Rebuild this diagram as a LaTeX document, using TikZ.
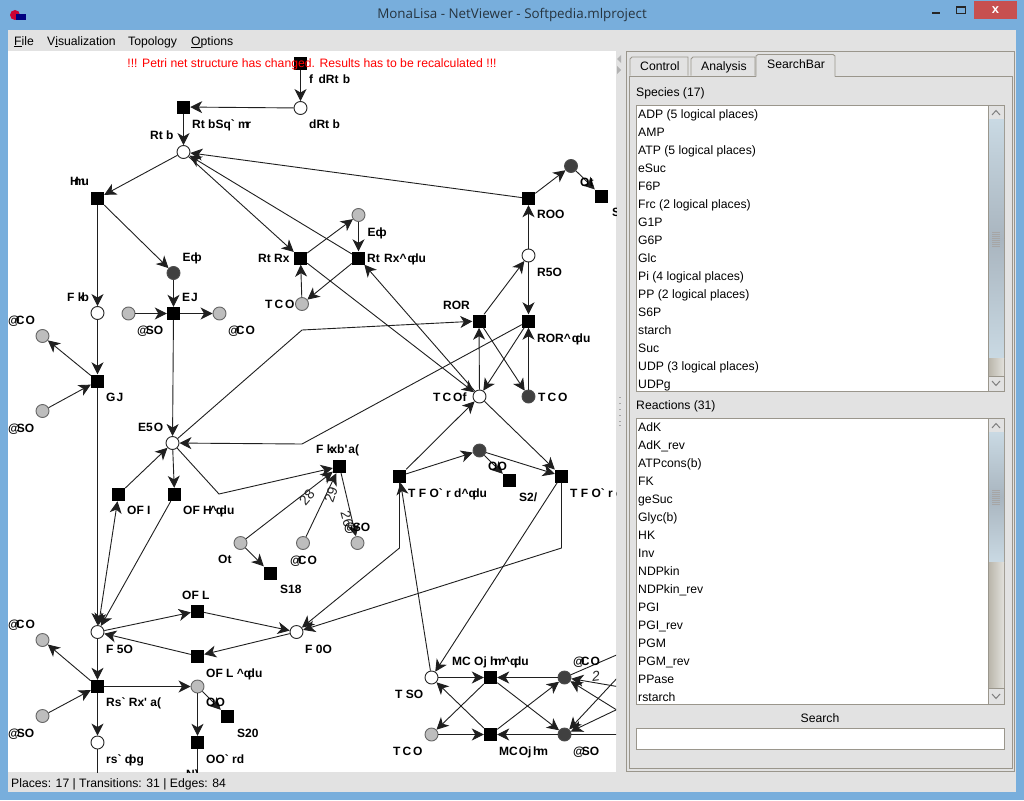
\documentclass[tikz,border=0pt]{standalone}
\usepackage{fontspec}
\setmainfont{Liberation Sans}
\newfontfamily\titlefont{Open Sans}
\usetikzlibrary{arrows.meta,calc}
\definecolor{winblue}{HTML}{78AEDC}
\definecolor{wingrey}{HTML}{E2E2E2}
\definecolor{frameline}{HTML}{9A968C}
\definecolor{placegrey}{HTML}{BDBDBD}
\definecolor{placedark}{HTML}{404040}
\definecolor{closered}{HTML}{C75050}
\definecolor{thumbA}{HTML}{C9D9E3}
\definecolor{thumbB}{HTML}{A9B5BF}
\definecolor{trackA}{HTML}{B9B5AA}
\definecolor{trackB}{HTML}{E2E1DC}
\definecolor{titleink}{HTML}{26343F}
\newcommand{\hc}{\textasciicircum}
\newcommand{\gv}{\textasciigrave}
\newcommand{\qs}{\textquotesingle}
\newcommand{\qdu}{q\kern-3.5pt du}
\newcommand{\hm}{h\kern-3pt m}
\newcommand{\Eqb}{E\kern-.2pt q\kern-3.5pt b}
\newcommand{\TCO}{T\kern2pt C\kern2pt O}
\newcommand{\ACO}{@\kern-4pt C\kern1pt O}
\newcommand{\ASO}{@\kern-3pt SO}
\tikzset{
  x=1pt,y=-1pt,
  every node/.style={font=\fontsize{12.2}{14}\selectfont},
  place/.style={circle,draw=black!85,line width=0.9pt,fill=white,minimum size=13pt,inner sep=0pt},
  placeg/.style={place,fill=placegrey,draw=black!60},
  placed/.style={place,fill=placedark,draw=black!70},
  trans/.style={rectangle,fill=black,minimum size=13pt,inner sep=0pt},
  tip/.tip={Stealth[length=12pt,width=12pt,inset=3.5pt]},
  edge/.style={draw=black!88,line width=0.9pt,-{tip}},
  edgeb/.style={draw=black!88,line width=0.9pt,{tip}-{tip}},
  plain/.style={draw=black!88,line width=0.9pt},
  lab/.style={anchor=base west,yshift=-4.3pt,inner sep=0pt,font=\bfseries\fontsize{12}{14}\selectfont,text=black},
  wt/.style={inner sep=0pt,font=\fontsize{14}{14}\selectfont,text=black!85},
  item/.style={anchor=base west,yshift=-4.3pt,inner sep=0pt,text=black},
  panel/.style={draw=frameline,line width=0.9pt},
  listbox/.style={draw=frameline,line width=0.9pt,fill=white},
  scrollbtn/.style={draw=frameline,line width=0.6pt,fill=wingrey},
}
\begin{document}
\begin{tikzpicture}
\useasboundingbox (0,0) rectangle (1024,800);
% window
\fill[winblue] (0,0) rectangle (1024,800);
\fill[wingrey] (8,30) rectangle (1016,792);
\fill[closered] (974,1) rectangle (1017,19);
\node[inner sep=0pt,text=white,font=\bfseries\fontsize{13}{13}\selectfont] (closex) at (995.5,10) {x};
\fill[black!85] (932,12) rectangle (940,14);
\draw[black!85,line width=1pt] (956.5,6.5) rectangle (965.5,13.5);
\fill[black!85] (956,6) rectangle (966,8);
\fill[purple!80!red] (15,15) circle (5);
\fill[blue!50!black] (16,14) rectangle (26,20);
\node[inner sep=0pt,font=\titlefont\fontsize{13.4}{14}\selectfont,text=titleink] (wintitle) at (512,15) {MonaLisa - NetViewer - Softpedia.mlproject};
% menu
\node[item] (mFile) at (14,41) {\underline{F}ile};
\node[item] (mVis) at (47,41) {V\underline{i}sualization};
\node[item] (mTop) at (128,41) {Topology};
\node[item] (mOpt) at (191,41) {\underline{O}ptions};
% canvas
\fill[white] (8,51) rectangle (616,772);
\begin{scope}
\clip (8,51) rectangle (616,772);
% places and transitions
\node[trans] (tFd) at (300.5,63.5) {};
\node[place] (pD) at (300.5,108) {};
\node[trans] (tRS) at (183.5,107) {};
\node[place] (pR) at (183.5,152) {};
\node[trans] (tH) at (97.5,198.5) {};
\node[placed] (pE1) at (173.5,273) {};
\node[place] (pF) at (97.5,313) {};
\node[trans] (tEJ) at (173.5,313.5) {};
\node[placeg] (pA1) at (128.5,313.5) {};
\node[placeg] (pC1) at (219.5,313.5) {};
\node[placeg] (pC2) at (42.5,336) {};
\node[trans] (tGJ) at (97.5,381) {};
\node[placeg] (pA2) at (42.5,411) {};
\node[place] (pE5) at (172.5,443) {};
\node[trans] (tOI) at (118.5,494.5) {};
\node[trans] (tOH) at (174.5,494.5) {};
\node[trans] (tRx) at (300.5,258) {};
\node[trans] (tRq) at (358.5,258) {};
\node[placeg] (pE2) at (358.5,215) {};
\node[placeg] (pT1) at (302,304) {};
\node[trans] (tROO) at (528.5,198.5) {};
\node[placed] (pOt) at (571,166) {};
\node[trans] (tS) at (601.5,196) {};
\node[place] (pR5) at (528.5,255.5) {};
\node[trans] (tROR) at (479,321) {};
\node[trans] (tRq2) at (528.5,321) {};
\node[place] (pTf) at (479.5,396.5) {};
\node[placed] (pT2) at (528.5,396.5) {};
\node[trans] (tFx) at (339.5,466.5) {};
\node[trans] (tTd) at (399.5,476) {};
\node[trans] (tTr) at (561.5,476) {};
\node[placed] (pOO) at (479.5,450.5) {};
\node[trans] (tS2) at (509.5,480.5) {};
\node[placeg] (pOg) at (240.5,543) {};
\node[trans] (tS18) at (270.5,573) {};
\node[placeg] (pC3) at (303,543) {};
\node[placeg] (pA3) at (357.5,543) {};
\node[trans] (tOL) at (197.5,611) {};
\node[place] (pF5) at (97.5,632) {};
\node[place] (pF0) at (296.5,632) {};
\node[trans] (tOLq) at (197.5,656) {};
\node[trans] (tRs) at (97.5,686.5) {};
\node[placeg] (pC4) at (42.5,640) {};
\node[placeg] (pA4) at (42.5,716) {};
\node[placeg] (pOO2) at (197.5,686.5) {};
\node[trans] (tS20) at (227.5,716.5) {};
\node[trans] (tOOr) at (197.5,742.5) {};
\node[place] (pRs) at (97.5,742.5) {};
\node[place] (pTS) at (431.5,677.5) {};
\node[trans] (tMq) at (490.5,677.5) {};
\node[placed] (pC5) at (564.5,677.5) {};
\node[placeg] (pT3) at (431.5,734.5) {};
\node[trans] (tM) at (490.5,734.5) {};
\node[placed] (pA5) at (564.5,734.5) {};
% free ends
\coordinate (eRs) at (97.5,790);
\coordinate (eOOr) at (197.5,790);
\coordinate (eA) at (620,653.5);
\coordinate (eB) at (620,687);
\coordinate (eC) at (620,712);
\coordinate (eD) at (620,675);
\coordinate (eE) at (620,708);
\coordinate (eF) at (620,734.5);
% edges
\draw[edge] (tFd) -- (pD);
\draw[edge] (pD) -- (tRS);
\draw[edge] (tRS) -- (pR);
\draw[edge] (tROO) -- (pR);
\draw[edge] (pR) -- (tH);
\draw[edge] (tH) -- (pF);
\draw[edge] (tH) -- (pE1);
\draw[edge] (pE1) -- (tEJ);
\draw[edge] (pA1) -- (tEJ);
\draw[edge] (tEJ) -- (pC1);
\draw[edge] (tEJ) -- (pE5);
\draw[edge] (pF) -- (tGJ);
\draw[edge] (tGJ) -- (pC2);
\draw[edge] (pA2) -- (tGJ);
\draw[edge] (tGJ) -- (pF5);
\draw[edge] (pE5) -- (tOH);
\draw[edge] (tOI) -- (pE5);
\draw[edgeb] (tOI) -- (pF5);
\draw[edge] (tOH) -- (pF5);
\draw[edge] (pE5) -- (302,330) -- (tROR);
\draw[edge] (tRq2) -- (302,444) -- (pE5);
\draw[edge] (pE5) -- (219,494) -- (tFx);
\draw[edge] (pR) -- (tRx);
\draw[edge] (tRq) -- (pR);
\draw[edge] (tRx) -- (pE2);
\draw[edge] (pE2) -- (tRq);
\draw[edge] (pT1) -- (tRx);
\draw[edge] (tRq) -- (pT1);
\draw[edge] (tRx) -- (pTf);
\draw[edge] (pTf) -- (tRq);
\draw[edge] (tROR) -- (pR5);
\draw[edge] (pR5) -- (tRq2);
\draw[edge] (pR5) -- (tROO);
\draw[edge] (tROO) -- (pOt);
\draw[edge] (pOt) -- (tS);
\draw[edge] (pTf) -- (tROR);
\draw[edge] (pT2) -- (tRq2);
\draw[edge] (tROR) -- (pT2);
\draw[edge] (tRq2) -- (pTf);
\draw[edge] (tTd) -- (pTf);
\draw[edge] (pTf) -- (tTr);
\draw[edge] (tTd) -- (pOO);
\draw[edge] (pOO) -- (tTr);
\draw[edge] (pOO) -- (tS2);
\draw[edge] (pOg) -- (tFx);
\draw[edge] (pC3) -- (tFx);
\draw[edge] (tFx) -- (pA3);
\draw[edge] (pOg) -- (tS18);
\draw[edge] (pTS) -- (tTd);
\draw[edge] (tTd) -- (399.5,548) -- (pF0);
\draw[edge] (tTr) -- (561.5,548) -- (pF0);
\draw[edge] (tTr) -- (pTS);
\draw[edge] (pF5) -- (tOL);
\draw[edge] (tOL) -- (pF0);
\draw[edge] (pF0) -- (tOLq);
\draw[edge] (tOLq) -- (pF5);
\draw[edge] (pF5) -- (tRs);
\draw[edge] (tRs) -- (pC4);
\draw[edge] (pA4) -- (tRs);
\draw[edge] (tRs) -- (pOO2);
\draw[edge] (tRs) -- (pRs);
\draw[edge] (pOO2) -- (tS20);
\draw[edge] (pOO2) -- (tOOr);
\draw[plain] (pRs) -- (eRs);
\draw[plain] (tOOr) -- (eOOr);
\draw[edge] (pTS) -- (tMq);
\draw[edge] (tMq) -- (pT3);
\draw[edge] (pT3) -- (tM);
\draw[edge] (tM) -- (pTS);
\draw[edge] (pC5) -- (tMq);
\draw[edge] (tMq) -- (pA5);
\draw[edge] (pA5) -- (tM);
\draw[edge] (tM) -- (pC5);
\draw[plain] (pC5) -- (eA);
\draw[edge] (eB) -- (pC5);
\draw[edge] (eC) -- (pC5);
\draw[edge] (eD) -- (pA5);
\draw[edge] (eE) -- (pA5);
\draw[plain] (pA5) -- (eF);
% weights
\node[wt,rotate=50] (w28) at (307,497) {28};
\node[wt,rotate=72] (w29) at (331,495) {29};
\node[wt,rotate=-75] (w26) at (347,519) {26};
\node[wt,rotate=7,font=\fontsize{14}{14}\selectfont\itshape] (w2) at (596,676) {2};
% labels
\node[lab] (l1) at (309,79) {f\kern2pt\ dRt\kern1pt\ b};
\node[lab] (l2) at (192,124) {Rt bSq\gv\ m\kern-2.5pt r};
\node[lab] (l3) at (309,124) {dRt b};
\node[lab] (l4) at (150,135) {Rt b};
\node[lab] (l5) at (70,181) {H\kern-4.5pt m\kern-3.5pt u};
\node[lab] (l6) at (182.5,257) {\Eqb};
\node[lab] (l7) at (258,258) {Rt Rx};
\node[lab] (l8) at (367,258) {Rt\kern1pt\ Rx\hc\kern1pt\qdu};
\node[lab] (l9) at (367.5,232) {\Eqb};
\node[lab] (l10) at (265,304) {\TCO};
\node[lab] (l11) at (67,297) {F k\kern-3pt b};
\node[lab] (l12) at (182,297) {E\kern1pt J};
\node[lab] (l13) at (137,330) {\ASO};
\node[lab] (l14) at (228,330) {\ACO};
\node[lab] (l15) at (8,320) {\ACO};
\node[lab] (l16) at (106,397) {G\kern1pt J};
\node[lab] (l17) at (8,428) {\ASO};
\node[lab] (l18) at (138,427) {E5\kern1pt O};
\node[lab] (l19) at (127,510) {OF I};
\node[lab] (l20) at (183,510) {OF H\kern-2pt\hc\kern-1pt\qdu};
\node[lab] (l21) at (316,449) {F k\kern-3pt xb\qs\kern1pt a(};
\node[lab] (l22) at (433,397) {T\kern2pt C\kern2pt Of};
\node[lab] (l23) at (538,397) {\TCO};
\node[lab] (l24) at (537,214) {ROO};
\node[lab] (l25) at (537,272) {R5O};
\node[lab] (l26) at (443,305) {ROR};
\node[lab] (l27) at (537,338) {ROR\hc\kern1pt\qdu};
\node[lab] (l28) at (580,182) {Ot};
\node[lab] (l29) at (612,212) {S17};
\node[lab] (l30) at (488,466) {OO};
\node[lab] (l31) at (519,497) {S2/};
\node[lab] (l32) at (408,493) {T F O\gv\ r d\hc\qdu};
\node[lab] (l33) at (570,493) {T F O\gv\ r d};
\node[lab] (l34) at (218,559) {Ot};
\node[lab] (l35) at (280,589) {S18};
\node[lab] (l36) at (290,560) {\ACO};
\node[lab] (l37) at (344,527) {\ASO};
\node[lab] (l38) at (182,595) {OF L};
\node[lab] (l39) at (106,649) {F 5O};
\node[lab] (l40) at (305,649) {F 0O};
\node[lab] (l41) at (206,673) {OF L \hc\qdu};
\node[lab] (l42) at (8,624) {\ACO};
\node[lab] (l43) at (8,733) {\ASO};
\node[lab] (l44) at (106,702) {Rs\gv\ Rx\qs\ a(};
\node[lab] (l45) at (206,702) {OO};
\node[lab] (l46) at (237,733) {S20};
\node[lab] (l47) at (206,759) {OO\gv\ rd};
\node[lab] (l48) at (106,759) {rs\gv\ q\kern-3pt bg};
\node[lab] (l49) at (186,774) {N)};
\node[lab] (l50) at (452,661) {MC Oj \hm\kern-2pt\hc\qdu};
\node[lab] (l51) at (573,661) {\ACO};
\node[lab] (l52) at (395,694) {T SO};
\node[lab] (l53) at (393,751) {\TCO};
\node[lab] (l54) at (499,751) {MC\kern1pt Oj\kern1.5pt \hm};
\node[lab] (l55) at (573,751) {\ASO};
\node[text=red,inner sep=0pt] (warn) at (312,64) {!!! Petri net structure has changed. Results has to be recalculated !!!};
\end{scope}
% status bar
\node[item] (status) at (11,783) {Places: 17 | Transitions: 31 | Edges: 84};
% splitter
\fill[black!30] (621,55) -- (617,59) -- (621,63) -- cycle;
\fill[black!30] (617,66) -- (621,70) -- (617,74) -- cycle;
\foreach \yy in {397,403,409,415,421,425} \fill[black!35] (619,\yy) rectangle (621,\yy+1);
% right panel
\draw[panel] (626.5,51.5) rectangle (1014.5,771);
\draw[panel,fill=wingrey] (629,76.5) rectangle (1012,768);
\draw[panel,fill=wingrey] (630,75.5) -- (630,59) -- (632,57) -- (688,57) -- (688,75.5);
\draw[panel,fill=wingrey] (691,75.5) -- (691,59) -- (693,57) -- (755,57) -- (755,75.5);
\fill[wingrey] (756,60) rectangle (835,78);
\draw[panel] (756,76.5) -- (756,56) -- (758,54.5) -- (833,54.5) -- (835,56) -- (835,76.5);
\node[item] (tabA) at (640,66.5) {Control};
\node[item] (tabB) at (701,66.5) {Analysis};
\node[item] (tabC) at (767,64.5) {SearchBar};
\node[item] (hSp) at (636,92.5) {Species (17)};
\draw[listbox] (636.5,105) rectangle (1004.5,391);
\node[item] (s1) at (638,114.5) {ADP (5 logical places)};
\node[item] (s2) at (638,132.5) {AMP};
\node[item] (s3) at (638,150.5) {ATP (5 logical places)};
\node[item] (s4) at (638,168.5) {eSuc};
\node[item] (s5) at (638,186.5) {F6P};
\node[item] (s6) at (638,204.5) {Frc (2 logical places)};
\node[item] (s7) at (638,222.5) {G1P};
\node[item] (s8) at (638,240.5) {G6P};
\node[item] (s9) at (638,258.5) {Glc};
\node[item] (s10) at (638,276.5) {Pi (4 logical places)};
\node[item] (s11) at (638,294.5) {PP (2 logical places)};
\node[item] (s12) at (638,312.5) {S6P};
\node[item] (s13) at (638,330.5) {starch};
\node[item] (s14) at (638,348.5) {Suc};
\node[item] (s15) at (638,366.5) {UDP (3 logical places)};
\begin{scope}
\clip (637,105) rectangle (1004,390.5);
\node[item] (s16) at (638,384.5) {UDPg};
\end{scope}
% species scrollbar
\draw[scrollbtn] (988,105) rectangle (1004.5,119.5);
\shade[top color=thumbA,bottom color=thumbB] (988.5,119.5) rectangle (1004,239);
\shade[top color=thumbB,bottom color=thumbA] (988.5,239) rectangle (1004,358);
\shade[left color=trackA,right color=trackB] (988.5,358) rectangle (1004,376);
\draw[scrollbtn] (988,376) rectangle (1004.5,391);
\draw[frameline,line width=0.9pt] (988,105) -- (988,391);
\draw[black!50,line width=1pt] (992,115) -- (996,110.5) -- (1000,115);
\draw[black!50,line width=1pt] (992,381) -- (996,385.5) -- (1000,381);
\foreach \yy in {232,234,236,238,240,242,244,246} \draw[black!35,line width=0.5pt] (992,\yy+.5) -- (1000,\yy+.5);
\node[item] (hRe) at (636,405.5) {Reactions (31)};
\draw[listbox] (636.5,418) rectangle (1004.5,704);
\node[item] (r1) at (638,427.5) {AdK};
\node[item] (r2) at (638,445.5) {AdK\_rev};
\node[item] (r3) at (638,463.5) {ATPcons(b)};
\node[item] (r4) at (638,481.5) {FK};
\node[item] (r5) at (638,499.5) {geSuc};
\node[item] (r6) at (638,517.5) {Glyc(b)};
\node[item] (r7) at (638,535.5) {HK};
\node[item] (r8) at (638,553.5) {Inv};
\node[item] (r9) at (638,571.5) {NDPkin};
\node[item] (r10) at (638,589.5) {NDPkin\_rev};
\node[item] (r11) at (638,607.5) {PGI};
\node[item] (r12) at (638,625.5) {PGI\_rev};
\node[item] (r13) at (638,643.5) {PGM};
\node[item] (r14) at (638,661.5) {PGM\_rev};
\node[item] (r15) at (638,679.5) {PPase};
\begin{scope}
\clip (637,418) rectangle (1004,703.5);
\node[item] (r16) at (638,697.5) {rstarch};
\end{scope}
% reactions scrollbar
\draw[scrollbtn] (988,418) rectangle (1004.5,432.5);
\shade[top color=thumbA,bottom color=thumbB] (988.5,432.5) rectangle (1004,497);
\shade[top color=thumbB,bottom color=thumbA] (988.5,497) rectangle (1004,562);
\shade[left color=trackA,right color=trackB] (988.5,562) rectangle (1004,688.5);
\draw[scrollbtn] (988,688.5) rectangle (1004.5,704);
\draw[frameline,line width=0.9pt] (988,418) -- (988,704);
\draw[black!50,line width=1pt] (992,428) -- (996,423.5) -- (1000,428);
\draw[black!50,line width=1pt] (992,694) -- (996,698.5) -- (1000,694);
\foreach \yy in {490,492,494,496,498,500,502,504} \draw[black!35,line width=0.5pt] (992,\yy+.5) -- (1000,\yy+.5);
\node[inner sep=0pt,text=black] (hSe) at (820,718.5) {Search};
\draw[listbox] (636.5,728.5) rectangle (1004.5,749.5);
\end{tikzpicture}
\end{document}
